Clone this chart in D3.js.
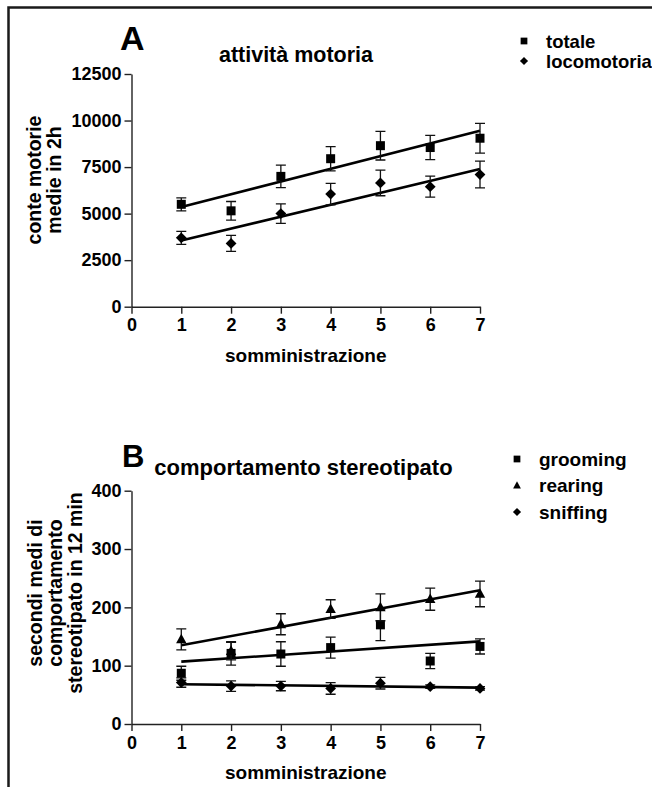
<!DOCTYPE html>
<html>
<head>
<meta charset="utf-8">
<script src="https://cdnjs.cloudflare.com/ajax/libs/d3/7.8.5/d3.min.js"></script>
<style>
  body { margin: 0; background: #fff; }
  svg { display: block; font-family: "Liberation Sans", Arial, sans-serif; font-weight: bold; }
  .axis path, .axis line { stroke: #222; stroke-width: 1.4px; }
  .axis text { font-size: 18px; font-weight: bold; fill: #000; font-family: "Liberation Sans", Arial, sans-serif; }
  .err { stroke: #111; stroke-width: 1.3px; fill: none; }
  .fit { stroke: #000; stroke-width: 2.6px; fill: none; }
</style>
</head>
<body>
<svg width="652" height="787"></svg>
<script>
var somministrazioni = [1, 2, 3, 4, 5, 6, 7]
var xTicks = [0, 1, 2, 3, 4, 5, 6, 7]
var yTicksA = [0, 2500, 5000, 7500, 10000, 12500]
var yTicksB = [0, 100, 200, 300, 400]

// A - attività motoria (conte medie in 2h)
var totale = [5500, 5150, 7000, 7950, 8650, 8550, 9050]
var totaleErr = [350, 500, 600, 650, 770, 650, 800]
var locomotoria = [3700, 3400, 5000, 6050, 6650, 6450, 7100]
var locomotoriaErr = [350, 430, 520, 580, 690, 560, 720]

// B - comportamento stereotipato (secondi in 12 min)
var grooming = [87, 121, 120, 131, 170, 108, 133]
var groomingErr = [12, 20, 21, 18, 27, 13, 13]
var rearing = [145, 125, 171, 197, 200, 214, 223]
var rearingErr = [18, 15, 18, 16, 23, 19, 22]
var sniffing = [71, 65, 65, 61, 70, 64, 61]
var sniffingErr = [8, 9, 8, 10, 10, 3, 3]

var svg = d3.select("svg")

// cornice
svg.append("path")
  .attr("d", "M8.5,800V7.5H700")
  .style("fill", "none")
  .style("stroke", "#1a1a1a")
  .style("stroke-width", "2.5px")

var shapes = {
  square: function(s) { return "M" + (-s) + "," + (-s) + "H" + s + "V" + s + "H" + (-s) + "Z" },
  diamond: function(s) { return "M0," + (-s) + "L" + s + ",0L0," + s + "L" + (-s) + ",0Z" },
  triangle: function(s) { return "M0," + (-s * 1.1) + "L" + s + "," + (s * 0.75) + "L" + (-s) + "," + (s * 0.75) + "Z" }
}

function fit(xs, ys) {
  var mx = d3.mean(xs), my = d3.mean(ys)
  var b = d3.sum(xs, function(x, i) { return (x - mx) * (ys[i] - my) }) /
          d3.sum(xs, function(x) { return (x - mx) * (x - mx) })
  var a = my - b * mx
  var ext = d3.extent(xs)
  return ext.map(function(x) { return [x, a + b * x] })
}

function drawPanel(cfg) {
  var x = d3.scaleLinear().domain([0, 7]).range([131.5, 480])
  var y = d3.scaleLinear().domain(cfg.yDomain).range(cfg.yRange)
  var g = svg.append("g")

  g.append("g")
    .attr("class", "axis")
    .attr("transform", "translate(0," + cfg.yRange[0] + ")")
    .call(d3.axisBottom(x).tickValues(xTicks).tickFormat(d3.format("d"))
      .tickSize(7).tickSizeOuter(0).tickPadding(5))

  g.append("g")
    .attr("class", "axis")
    .attr("transform", "translate(" + x(0) + ",0)")
    .call(d3.axisLeft(y).tickValues(cfg.yTicks).tickFormat(d3.format("d"))
      .tickSize(7).tickSizeOuter(0).tickPadding(3))

  var line = d3.line().x(function(d) { return x(d[0]) }).y(function(d) { return y(d[1]) })

  cfg.series.forEach(function(s) {
    g.append("path")
      .attr("class", "fit")
      .attr("d", line(fit(somministrazioni, s.values)))

    var pts = g.selectAll(null)
      .data(somministrazioni.map(function(d, i) { return {x: d, v: s.values[i], e: s.err[i]} }))
      .enter().append("g")
      .attr("transform", function(d) { return "translate(" + x(d.x) + ",0)" })

    pts.append("path")
      .attr("class", "err")
      .attr("d", function(d) {
        var t = y(d.v + d.e), b = y(d.v - d.e)
        return "M-5," + t + "H5M0," + t + "V" + b + "M-5," + b + "H5"
      })

    pts.append("path")
      .attr("transform", function(d) { return "translate(0," + y(d.v) + ")" })
      .attr("d", shapes[s.shape](s.size))
      .style("fill", "#000")
  })

  // legenda
  var leg = g.selectAll(".leg")
    .data(cfg.series)
    .enter().append("g")
    .attr("transform", function(d, i) { return "translate(" + cfg.legend[0] + "," + (cfg.legend[1] + i * cfg.legend[2]) + ")" })

  leg.append("path")
    .attr("d", function(d) { return shapes[d.shape](d.size * 0.75) })
    .style("fill", "#000")

  leg.append("text")
    .attr("x", 22)
    .attr("y", 6.5)
    .style("font-size", cfg.legend[3] + "px")
    .text(function(d) { return d.name })

  g.append("text")
    .attr("x", cfg.letter[0]).attr("y", cfg.letter[1])
    .style("font-size", cfg.letter[2] + "px")
    .text(cfg.letter[3])

  g.append("text")
    .attr("x", cfg.title[0]).attr("y", cfg.title[1])
    .attr("text-anchor", "middle")
    .style("font-size", cfg.title[2] + "px")
    .text(cfg.title[3])

  g.append("text")
    .attr("x", (x(0) + x(7)) / 2)
    .attr("y", cfg.yRange[0] + 55)
    .attr("text-anchor", "middle")
    .style("font-size", "19px")
    .text("somministrazione")

  var yt = g.append("text")
    .attr("transform", "translate(" + cfg.ylab[0] + "," + cfg.ylab[1] + ")rotate(-90)")
    .attr("text-anchor", "middle")
    .style("font-size", cfg.ylab[2] + "px")
  cfg.ylab[3].forEach(function(l, i) {
    yt.append("tspan").attr("x", 0).attr("dy", i ? "1.05em" : 0).text(l)
  })
}

drawPanel({
  yDomain: [0, 12500], yRange: [306.7, 74], yTicks: yTicksA,
  series: [
    {name: "totale", values: totale, err: totaleErr, shape: "square", size: 4.5},
    {name: "locomotoria", values: locomotoria, err: locomotoriaErr, shape: "diamond", size: 5.4}
  ],
  legend: [524, 41, 20, 18.5],
  letter: [120, 50, 34, "A"],
  title: [296, 61.5, 21.5, "attività motoria"],
  ylab: [41, 180, 19.5, ["conte motorie", "medie in 2h"]]
})

drawPanel({
  yDomain: [0, 400], yRange: [724, 490.7], yTicks: yTicksB,
  series: [
    {name: "grooming", values: grooming, err: groomingErr, shape: "square", size: 4.5},
    {name: "rearing", values: rearing, err: rearingErr, shape: "triangle", size: 5.2},
    {name: "sniffing", values: sniffing, err: sniffingErr, shape: "diamond", size: 5.4}
  ],
  legend: [517, 459, 26.5, 19],
  letter: [122, 467, 31, "B"],
  title: [303.5, 475, 22, "comportamento stereotipato"],
  ylab: [41.5, 593, 19.5, ["secondi medi di", "comportamento", "stereotipato in 12 min"]]
})
</script>
</body>
</html>
